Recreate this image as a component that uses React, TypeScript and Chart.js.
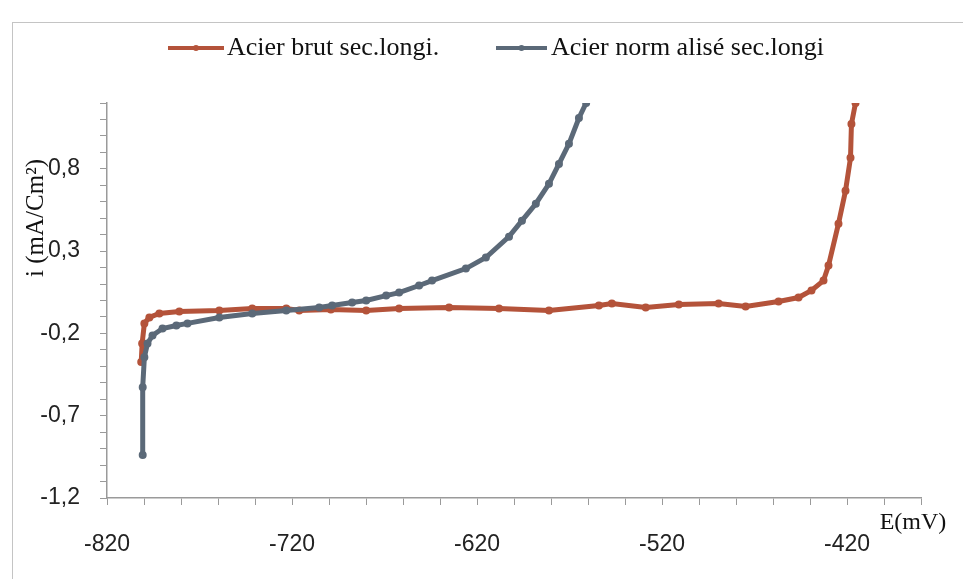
import { useEffect, useRef } from 'react';
import { Chart, registerables } from 'chart.js';

Chart.register(...registerables);

// ---------- data ----------
const SERIES_LABELS = ['Acier brut sec.longi.', 'Acier norm alisé sec.longi'];
const SERIES_COLORS = ['#b4533a', '#5b6978'];

// Acier brut: potential E (mV) and current density i (mA/cm²)
const brutE = [
  -801.5, -801.0, -799.8, -797.1, -791.7, -780.9, -759.3, -741.5, -723.1, -716.1,
  -699.0, -679.9, -662.1, -635.1, -608.1, -581.1, -554.1, -547.1, -528.8, -510.9,
  -489.4, -474.8, -457.0, -446.2, -439.2, -432.7, -430.0, -424.6, -420.8, -418.1,
  -417.6, -415.4,
];
const brutI = [
  -0.374, -0.261, -0.139, -0.103, -0.079, -0.067, -0.061, -0.048, -0.048, -0.061,
  -0.055, -0.061, -0.048, -0.042, -0.048, -0.061, -0.030, -0.018, -0.042, -0.024,
  -0.018, -0.036, -0.006, 0.018, 0.061, 0.121, 0.212, 0.467, 0.667, 0.867,
  1.073, 1.2,
];

// Acier normalisé
const normE = [
  -800.7, -800.7, -799.8, -798.1, -795.4, -790.0, -782.5, -776.5, -759.3, -741.5,
  -723.1, -705.3, -698.3, -687.5, -679.9, -669.1, -662.1, -651.3, -644.3, -626.0,
  -615.2, -602.7, -595.7, -588.2, -581.1, -575.7, -570.3, -564.9, -561.0,
];
const normI = [
  -0.939, -0.527, -0.345, -0.261, -0.212, -0.170, -0.152, -0.139, -0.103, -0.079,
  -0.061, -0.042, -0.030, -0.012, 0.000, 0.030, 0.048, 0.091, 0.121, 0.194,
  0.261, 0.388, 0.485, 0.588, 0.709, 0.830, 0.952, 1.109, 1.2,
];

// axes
const X_MIN = -820;
const X_MAX = -380;
const X_STEP = 20;
const X_LABEL_EVERY = 5;
const Y_MIN = -1.2;
const Y_MAX = 1.2;
const Y_STEP = 0.1;
const Y_LABEL_EVERY = 5;
const X_TITLE = 'E(mV)';
const Y_TITLE = 'i (mA/Cm²)';

const SERIF = '"Liberation Serif", "Times New Roman", serif';
const SANS = '"Liberation Sans", Arial, sans-serif';

const W = 963;
const H = 579;

const decorPlugin = {
  id: 'decor',
  beforeDraw(chart: any) {
    const ctx = chart.ctx;
    ctx.save();
    ctx.fillStyle = '#ffffff';
    ctx.fillRect(0, 0, chart.width, chart.height);
    ctx.strokeStyle = '#c4c4c4';
    ctx.lineWidth = 1;
    ctx.strokeRect(12.5, 22.5, chart.width + 20, chart.height + 20);
    ctx.restore();
  },
  afterDraw(chart: any) {
    const ctx = chart.ctx;
    ctx.save();
    // legend
    const items = [
      { x0: 168, x1: 224, tx: 227 },
      { x0: 496, x1: 547, tx: 551 },
    ];
    const ly = 48;
    chart.data.datasets.forEach((ds: any, i: number) => {
      const it = items[i];
      ctx.strokeStyle = ds.borderColor;
      ctx.lineWidth = 4;
      ctx.beginPath();
      ctx.moveTo(it.x0, ly);
      ctx.lineTo(it.x1, ly);
      ctx.stroke();
      ctx.fillStyle = ds.borderColor;
      ctx.beginPath();
      ctx.arc((it.x0 + it.x1) / 2, ly, 3, 0, Math.PI * 2);
      ctx.fill();
      ctx.fillStyle = '#111';
      ctx.font = `26px ${SERIF}`;
      ctx.textAlign = 'left';
      ctx.textBaseline = 'middle';
      ctx.fillText(ds.label, it.tx, ly);
    });
    // x title
    ctx.font = `24px ${SERIF}`;
    ctx.fillStyle = '#111';
    ctx.textAlign = 'center';
    ctx.textBaseline = 'middle';
    ctx.fillText(X_TITLE, 913, 523);
    // y title
    ctx.translate(36, 218);
    ctx.rotate(-Math.PI / 2);
    ctx.font = `25px ${SERIF}`;
    ctx.fillText(Y_TITLE, 0, 0);
    ctx.restore();
  },
};

export default function App() {
  const ref = useRef<HTMLCanvasElement | null>(null);

  useEffect(() => {
    if (!ref.current) return;
    const xCount = Math.round((X_MAX - X_MIN) / X_STEP);
    const yCount = Math.round((Y_MAX - Y_MIN) / Y_STEP);
    const chart = new Chart(ref.current, {
      type: 'line',
      data: {
        datasets: [
          {
            label: SERIES_LABELS[0],
            data: brutE.map((e, k) => ({ x: e, y: brutI[k] })),
            borderColor: SERIES_COLORS[0],
            backgroundColor: SERIES_COLORS[0],
            borderWidth: 5,
            pointRadius: 1.5,
            pointHoverRadius: 0,
            tension: 0,
            order: 1,
          },
          {
            label: SERIES_LABELS[1],
            data: normE.map((e, k) => ({ x: e, y: normI[k] })),
            borderColor: SERIES_COLORS[1],
            backgroundColor: SERIES_COLORS[1],
            borderWidth: 5,
            pointRadius: 1.5,
            pointHoverRadius: 0,
            tension: 0,
            order: 0,
          },
        ],
      },
      options: {
        responsive: false,
        animation: false,
        devicePixelRatio: 1,
        layout: { padding: { left: 14, top: 103, right: 42, bottom: 0 } },
        plugins: { legend: { display: false }, tooltip: { enabled: false } },
        scales: {
          x: {
            type: 'linear',
            min: X_MIN,
            max: X_MAX,
            afterBuildTicks: (scale: any) => {
              const t = [];
              for (let k = 0; k <= xCount; k++) t.push({ value: X_MIN + k * X_STEP });
              scale.ticks = t;
            },
            afterFit: (scale: any) => {
              scale.height = 81;
            },
            ticks: {
              autoSkip: false,
              maxRotation: 0,
              padding: 26,
              color: '#222',
              font: { family: SANS, size: 23 },
              callback: (v: any, idx: number) => (idx % X_LABEL_EVERY === 0 ? String(v) : ''),
            },
            grid: { drawOnChartArea: false, drawTicks: true, tickLength: 7, color: '#9a9a9a' },
            border: { display: true, color: '#9a9a9a', width: 1.5 },
          },
          y: {
            type: 'linear',
            min: Y_MIN,
            max: Y_MAX,
            afterBuildTicks: (scale: any) => {
              const t = [];
              for (let k = 0; k <= yCount; k++) t.push({ value: Math.round((Y_MIN + k * Y_STEP) * 10) / 10 });
              scale.ticks = t;
            },
            afterFit: (scale: any) => {
              scale.width = 93;
            },
            ticks: {
              autoSkip: false,
              padding: 20,
              color: '#222',
              font: { family: SANS, size: 23 },
              callback: (v: any, idx: number) =>
                idx % Y_LABEL_EVERY === 0 ? Number(v).toFixed(1).replace('.', ',') : '',
            },
            grid: { drawOnChartArea: false, drawTicks: true, tickLength: 7, color: '#9a9a9a' },
            border: { display: true, color: '#9a9a9a', width: 1.5 },
          },
        },
      },
      plugins: [decorPlugin],
    } as any);
    return () => chart.destroy();
  }, []);

  return (
    <div style={{ position: 'fixed', left: 0, top: 0, width: W, height: H, background: '#fff' }}>
      <canvas ref={ref} width={W} height={H} style={{ display: 'block', width: W, height: H }} />
    </div>
  );
}
